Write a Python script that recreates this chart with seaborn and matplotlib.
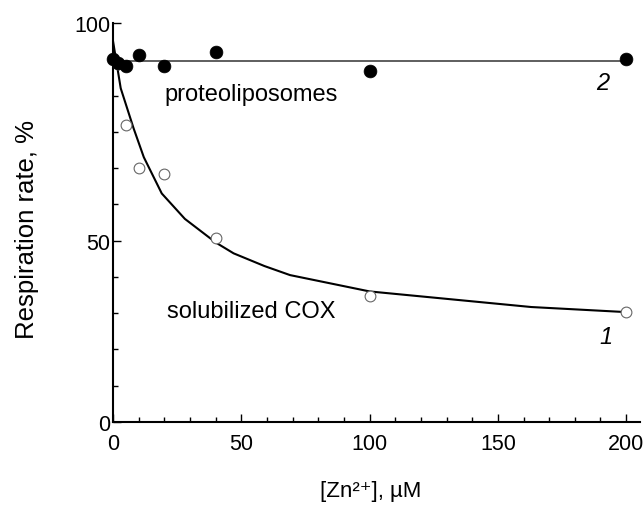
import matplotlib
matplotlib.use("Agg")
import matplotlib.pyplot as plt
import seaborn as sns
import pandas as pd
from matplotlib.ticker import FixedLocator, FixedFormatter, MultipleLocator

# ---- data ----
zn_points = [0, 2, 5, 10, 20, 40, 100, 200]
proteolip_vals = [100.1, 99.0, 98.1, 101.2, 98.1, 102.1, 96.8, 100.1]
solub_vals = [100.0, 98.7, 81.9, 69.9, 68.4, 50.8, 34.7, 30.3]

fit1_x = [0, 3, 8, 12, 19, 28, 40, 47, 59, 69, 100, 163, 200]
fit1_y = [105, 92, 81, 73, 63, 56, 49.5, 46.5, 43, 40.5, 36, 31.7, 30.3]
fit2_x = [0, 200]
fit2_y = [99.6, 99.6]

ytick_pos = [0, 50, 110]
ytick_labels = ["0", "50", "100"]
xtick_pos = [0, 50, 100, 150, 200]

sns.set_theme(style="ticks")
plt.rcParams["font.family"] = ["Liberation Sans", "DejaVu Sans"]
plt.rcParams["text.color"] = "black"
plt.rcParams["axes.labelcolor"] = "black"
plt.rcParams["xtick.color"] = "black"
plt.rcParams["ytick.color"] = "black"

fig = plt.figure(figsize=(6.44, 5.06), dpi=100)
ax = fig.add_axes([0.1755, 0.164, 0.8183, 0.7886])

df_pts = pd.DataFrame({"x": zn_points, "p": proteolip_vals, "s": solub_vals})
df_f1 = pd.DataFrame({"x": fit1_x, "y": fit1_y})
df_f2 = pd.DataFrame({"x": fit2_x, "y": fit2_y})

sns.lineplot(data=df_f1, x="x", y="y", ax=ax, color="black", lw=1.5,
             sort=False, clip_on=False)
sns.lineplot(data=df_f2, x="x", y="y", ax=ax, color="#333333", lw=1.1,
             sort=False, clip_on=False)
sns.scatterplot(data=df_pts, x="x", y="s", ax=ax, s=60, marker="o",
                facecolor="white", edgecolor="#666666", linewidth=0.8,
                clip_on=False, zorder=3)
sns.scatterplot(data=df_pts, x="x", y="p", ax=ax, s=85, marker="o",
                color="black", edgecolor="black", linewidth=0.5,
                clip_on=False, zorder=4)

ax.set_xlim(0, 205.4)
ax.set_ylim(0, 110)
ax.xaxis.set_major_locator(FixedLocator(xtick_pos))
ax.xaxis.set_minor_locator(MultipleLocator(10))
ax.yaxis.set_major_locator(FixedLocator(ytick_pos))
ax.yaxis.set_major_formatter(FixedFormatter(ytick_labels))
ax.yaxis.set_minor_locator(MultipleLocator(10))

for s in ["top", "right"]:
    ax.spines[s].set_visible(False)
for s in ["left", "bottom"]:
    ax.spines[s].set_linewidth(1.5)
    ax.spines[s].set_color("black")

ax.tick_params(axis="both", which="major", direction="in", length=6,
               width=1.0, labelsize=15.5)
ax.tick_params(axis="both", which="minor", direction="in", length=3.5,
               width=1.0)
ax.tick_params(axis="x", which="major", pad=8)
ax.tick_params(axis="y", which="major", pad=2)

ax.set_xlabel("[Zn²⁺], µM", fontsize=16)
ax.set_ylabel("Respiration rate, %", fontsize=18.5)
ax.xaxis.set_label_coords(0.488, -0.145)
ax.yaxis.set_label_coords(-0.14, 0.485)

ax.text(20, 90.5, "proteoliposomes", fontsize=17, va="center", ha="left")
ax.text(21, 30.5, "solubilized COX", fontsize=17, va="center", ha="left")
ax.text(191, 93.5, "2", fontsize=17, style="italic", va="center", ha="center")
ax.text(192, 23.5, "1", fontsize=17, style="italic", va="center", ha="center")

fig.savefig("out.png", dpi=100)
